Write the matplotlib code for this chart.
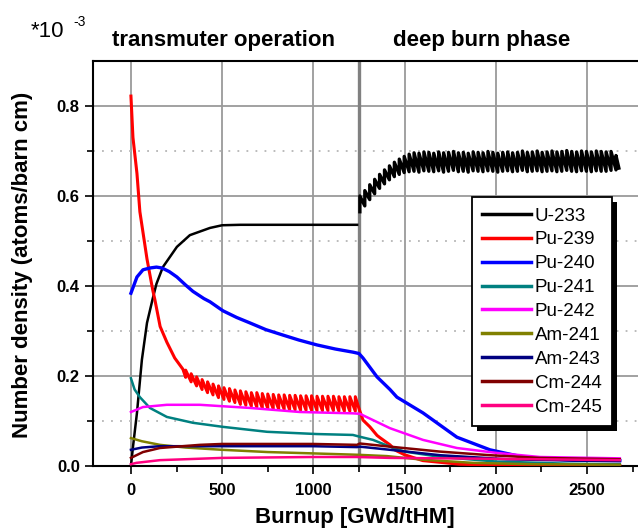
import numpy as np
import matplotlib
matplotlib.use("Agg")
import matplotlib.pyplot as plt
from matplotlib.patches import Rectangle

plt.rcParams['font.family'] = ['Liberation Sans', 'DejaVu Sans']

# ---------------- data ----------------
labels = ["U-233", "Pu-239", "Pu-240", "Pu-241", "Pu-242",
          "Am-241", "Am-243", "Cm-244", "Cm-245"]
colors = ["#000000", "#ff0000", "#0000ff", "#008080", "#ff00ff",
          "#808000", "#000080", "#800000", "#ff0080"]

# U-233, transmuter phase (smooth)
u233_tr_x = [0, 11, 33, 60, 88, 120, 140, 175, 252, 323, 433, 500, 600, 1240]
u233_tr_y = [0.0, 0.042, 0.118, 0.236, 0.318, 0.373, 0.405, 0.442, 0.487,
             0.513, 0.529, 0.535, 0.536, 0.536]
# U-233, deep burn phase: sawtooth (per-cycle low / high values)
u233_db_cycle_start = 1255
u233_db_cycle_len = 27
u233_db_lo = [0.565, 0.578, 0.592, 0.605, 0.617, 0.627, 0.636, 0.643, 0.648, 0.652,
              0.654, 0.655, 0.653, 0.656, 0.655, 0.654, 0.656, 0.653, 0.655, 0.657,
              0.654, 0.655, 0.653, 0.656, 0.655, 0.654, 0.656, 0.655, 0.653, 0.655,
              0.656, 0.654, 0.655, 0.657, 0.654, 0.655, 0.656, 0.654, 0.655, 0.656,
              0.654, 0.655, 0.657, 0.655, 0.654, 0.656, 0.655, 0.654, 0.656, 0.655,
              0.655, 0.657, 0.658]
u233_db_hi = [0.600, 0.612, 0.625, 0.637, 0.648, 0.658, 0.667, 0.675, 0.682, 0.688,
              0.693, 0.696, 0.695, 0.698, 0.697, 0.695, 0.698, 0.696, 0.697, 0.699,
              0.696, 0.697, 0.695, 0.698, 0.697, 0.696, 0.699, 0.697, 0.695, 0.697,
              0.698, 0.696, 0.697, 0.700, 0.697, 0.698, 0.700, 0.697, 0.698, 0.700,
              0.698, 0.699, 0.701, 0.699, 0.698, 0.700, 0.699, 0.698, 0.700, 0.699,
              0.698, 0.699, 0.690]
u233_db_end = (2675, 0.662)

# Pu-239: early smooth decline, sawtooth, then deep-burn decline
pu239_a_x = [0, 11, 33, 49, 88, 120, 131, 160, 197, 240, 285]
pu239_a_y = [0.822, 0.73, 0.65, 0.565, 0.46, 0.39, 0.37, 0.31, 0.275, 0.24, 0.215]
pu239_cycle_start = 300
pu239_cycle_len = 30
pu239_lo = [0.197, 0.187, 0.178, 0.170, 0.163, 0.158, 0.152, 0.148, 0.144, 0.141,
            0.137, 0.135, 0.133, 0.131, 0.129, 0.128, 0.127, 0.126, 0.126, 0.125,
            0.125, 0.124, 0.124, 0.124, 0.123, 0.123, 0.123, 0.123, 0.122, 0.122,
            0.122, 0.122]
pu239_hi = [0.213, 0.205, 0.198, 0.192, 0.187, 0.182, 0.178, 0.174, 0.172, 0.169,
            0.167, 0.165, 0.163, 0.163, 0.161, 0.160, 0.159, 0.158, 0.158, 0.157,
            0.157, 0.156, 0.156, 0.156, 0.155, 0.155, 0.155, 0.155, 0.154, 0.154,
            0.154, 0.154]
pu239_b_x = [1250, 1272, 1310, 1349, 1365, 1420, 1450, 1500, 1600, 1800, 2000, 2680]
pu239_b_y = [0.128, 0.102, 0.087, 0.068, 0.063, 0.047, 0.035, 0.025, 0.012, 0.004,
             0.002, 0.001]

pu240_x = [0, 33, 66, 104, 140, 170, 210, 252, 300, 340, 400, 433, 504, 580, 652, 740,
           833, 920, 1020, 1120, 1217, 1250, 1272, 1349, 1420, 1458, 1601, 1787, 1968,
           2149, 2423, 2680]
pu240_y = [0.384, 0.42, 0.436, 0.44, 0.442, 0.44, 0.432, 0.42, 0.402, 0.388, 0.372,
           0.365, 0.345, 0.33, 0.318, 0.303, 0.291, 0.28, 0.269, 0.26, 0.253, 0.25,
           0.24, 0.198, 0.17, 0.153, 0.118, 0.064, 0.036, 0.02, 0.013, 0.012]

pu241_x = [0, 20, 49, 104, 197, 340, 504, 746, 1020, 1217, 1255, 1327, 1420, 1500,
           1700, 2000, 2400, 2680]
pu241_y = [0.195, 0.17, 0.153, 0.129, 0.109, 0.096, 0.087, 0.076, 0.071, 0.069,
           0.065, 0.058, 0.043, 0.032, 0.02, 0.01, 0.005, 0.004]

pu242_x = [0, 66, 197, 378, 652, 926, 1217, 1255, 1420, 1601, 1787, 2007, 2242, 2680]
pu242_y = [0.12, 0.131, 0.136, 0.136, 0.129, 0.12, 0.117, 0.116, 0.084, 0.058, 0.04,
           0.029, 0.02, 0.017]

am241_x = [0, 60, 159, 300, 500, 750, 998, 1239, 1403, 1600, 1875, 2200, 2680]
am241_y = [0.062, 0.055, 0.047, 0.041, 0.036, 0.031, 0.028, 0.025, 0.022, 0.014,
           0.007, 0.004, 0.003]

am243_x = [0, 60, 159, 500, 998, 1239, 1255, 1420, 1694, 2061, 2423, 2680]
am243_y = [0.036, 0.041, 0.044, 0.044, 0.044, 0.042, 0.043, 0.036, 0.024, 0.015,
           0.012, 0.011]

cm244_x = [0, 20, 66, 159, 378, 500, 998, 1239, 1255, 1420, 1694, 1968, 2242, 2680]
cm244_y = [0.018, 0.022, 0.031, 0.04, 0.047, 0.049, 0.049, 0.047, 0.05, 0.043, 0.032,
           0.024, 0.018, 0.015]

cm245_x = [0, 30, 159, 500, 998, 1239, 1420, 2000, 2680]
cm245_y = [0.004, 0.007, 0.013, 0.018, 0.02, 0.02, 0.018, 0.016, 0.013]

x_major = [0, 500, 1000, 1500, 2000, 2500]
x_minor = [250, 750, 1250, 1750, 2250, 2750]
y_major = [0.0, 0.2, 0.4, 0.6, 0.8]
y_major_labels = ["0.0", "0.2", "0.4", "0.6", "0.8"]
y_minor = [0.1, 0.3, 0.5, 0.7]
phase_boundary = 1250


def sawtooth(start, step, lo, hi, end=None):
    px, py = [], []
    for i, (l, h) in enumerate(zip(lo, hi)):
        x = start + i * step
        px += [x, x]
        py += [l, h]
    if end is not None:
        px.append(end[0])
        py.append(end[1])
    return px, py


# ---------------- figure ----------------
W, H = 638, 530
fig = plt.figure(figsize=(W / 100, H / 100), dpi=100)
ax = fig.add_axes([93 / W, 64 / H, 548.7 / W, 405 / H])
ax.set_xlim(-208, 2800)
ax.set_ylim(0, 0.9)

ax.set_xticks(x_major)
ax.set_xticks(x_minor, minor=True)
ax.set_yticks(y_major)
ax.set_yticklabels(y_major_labels)
ax.set_yticks(y_minor, minor=True)
for lab in ax.get_xticklabels() + ax.get_yticklabels():
    lab.set_fontweight('bold')
    lab.set_fontsize(12)

ax.grid(True, which='major', color='#9a9a9a', lw=1.3, zorder=0)
ax.grid(True, which='minor', axis='y', color='#b5b5b5', lw=1.3,
        linestyle=(0, (1, 4)), zorder=0)
ax.set_axisbelow(True)
ax.tick_params(which='major', direction='out', length=5.5, width=1.2, pad=4)
ax.tick_params(which='minor', direction='out', length=4, width=1.2)
ax.tick_params(axis='x', which='major', pad=7)
for s in ['left', 'bottom', 'top']:
    ax.spines[s].set_linewidth(1.5)
ax.spines['right'].set_visible(False)

ax.axvline(phase_boundary, color='#808080', lw=2.4, zorder=1)

lw = 1.8
sx, sy = sawtooth(u233_db_cycle_start, u233_db_cycle_len, u233_db_lo, u233_db_hi,
                  u233_db_end)
ax.plot(u233_tr_x, u233_tr_y, color=colors[0], lw=lw, zorder=3)
ax.plot(sx, sy, color=colors[0], lw=2.4, zorder=3)

tx, ty = sawtooth(pu239_cycle_start, pu239_cycle_len, pu239_lo, pu239_hi)
pu239_x = pu239_a_x + tx + pu239_b_x
pu239_y = pu239_a_y + ty + pu239_b_y
ax.plot(pu239_x, pu239_y, color=colors[1], lw=2.2, zorder=3)

series = [(pu240_x, pu240_y), (pu241_x, pu241_y), (pu242_x, pu242_y),
          (am241_x, am241_y), (am243_x, am243_y), (cm244_x, cm244_y),
          (cm245_x, cm245_y)]
for (xs, ys), c in zip(series, colors[2:]):
    ax.plot(xs, ys, color=c, lw=lw + (0.6 if c == "#0000ff" else 0), zorder=3)

handles = [plt.Line2D([], [], color=c, lw=2.5) for c in colors]
leg = ax.legend(handles, labels, loc='upper left', bbox_to_anchor=(0.691, 0.664),
                borderaxespad=0, fancybox=False, framealpha=1, edgecolor='black',
                handlelength=2.6, handletextpad=0.2,
                labelspacing=0.36, borderpad=0.55,
                prop={'family': 'Liberation Sans', 'size': 13.5})
leg.get_frame().set_linewidth(1.3)
leg.set_zorder(6)

# black drop shadow for the legend (drawn inside the axes, just below the legend)
fig.canvas.draw()
bb = leg.get_window_extent()
off = 5
shadow = Rectangle((bb.x0 + off, bb.y0 - off), bb.width, bb.height,
                   transform=None, facecolor='black', edgecolor='none', zorder=5.5)
ax.add_artist(shadow)

# texts
fig.text(31 / W, 1 - 37 / H, "*10", fontsize=16, ha='left', va='baseline')
fig.text(73 / W, 1 - 26 / H, "-3", fontsize=10, ha='left', va='baseline')
fig.text(224 / W, 1 - 46 / H, "transmuter operation", fontsize=16, fontweight='bold',
         ha='center', va='baseline')
fig.text(482 / W, 1 - 46 / H, "deep burn phase", fontsize=16, fontweight='bold',
         ha='center', va='baseline')
fig.text(355 / W, 1 - 517 / H, "Burnup [GWd/tHM]", fontsize=16, fontweight='bold',
         ha='center', va='center')
fig.text(23 / W, 1 - 265 / H, "Number density (atoms/barn cm)", fontsize=16,
         fontweight='bold', ha='center', va='center', rotation=90)

fig.savefig("out.png", dpi=100)
